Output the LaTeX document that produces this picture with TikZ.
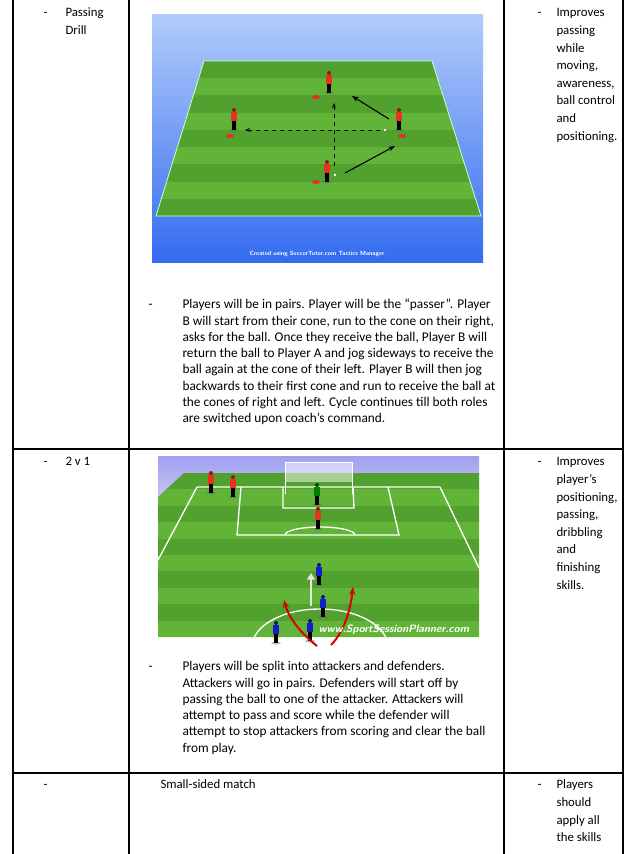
\documentclass[tikz,border=0pt]{standalone}
\usepackage{fontspec}
\setmainfont{Carlito}
\usetikzlibrary{positioning,arrows.meta}
\definecolor{grassA}{RGB}{82,160,46}
\definecolor{grassB}{RGB}{98,180,56}
\definecolor{shirtred}{RGB}{230,50,30}
\definecolor{shirtblue}{RGB}{20,30,200}
\tikzset{
	every picture/.style={line width=0.75pt},
	grid line/.style={line width=1.1pt},
	cell text/.style={anchor=north west,inner sep=0pt,font=\fontsize{9.6}{13.2}\selectfont,align=left},
	para text/.style={anchor=north west,inner sep=0pt,font=\fontsize{10}{12.2}\selectfont,align=left},
	pass/.style={-{Stealth[length=4pt]},dashed,line width=0.6pt},
	run/.style={-{Stealth[length=5pt]},line width=0.8pt},
	redrun/.style={-{Stealth[length=6pt]},line width=1.5pt,color=red!85!black}}
\newcommand{\plyr}[3]{% x, y, shirt colour
	\fill[black!60,opacity=0.4] (#1,#2+12) ellipse (5 and 1.5);
	\fill[black] (#1-2,#2+3) rectangle (#1+2,#2+12);
	\fill[#3] (#1-3,#2-6) rectangle (#1+3,#2+3);
	\fill[#3!60!black] (#1,#2-8) circle (2);}
\newcommand{\cone}[2]{\fill[shirtred] (#1,#2) ellipse (4 and 2);}

\begin{document}
\begin{tikzpicture}[x=0.75pt,y=0.75pt,yscale=-1]
	\useasboundingbox (0,0) rectangle (630,854);
	\fill[white] (0,0) rectangle (630,854);
	
	%table grid
	\draw[grid line] (13,0) -- (13,854);
	\draw[grid line] (129,0) -- (129,854);
	\draw[grid line] (504,0) -- (504,854);
	\draw[grid line] (623,0) -- (623,854);
	\draw[grid line] (13,449) -- (623,449);
	\draw[grid line] (13,773) -- (623,773);
	
	%first picture
	\shade[top color={rgb,255:red,178;green,204;blue,250},bottom color={rgb,255:red,52;green,108;blue,240}] (152,14) rectangle (483,262);
	\begin{scope}
		\clip (204,61) -- (432,61) -- (481,216) -- (156,216) -- cycle;
		\foreach \i in {0,...,8} {
			\pgfmathsetmacro{\ya}{61+\i*155/9}
			\ifodd\i \def\stripe{grassB}\else\def\stripe{grassA}\fi
			\fill[\stripe] (150,\ya) rectangle (490,\ya+155/9+0.5);
		}
	\end{scope}
	\draw[white!80!green,line width=0.6pt] (204,61) -- (432,61) -- (481,216) -- (156,216) -- cycle;
	\cone{316}{97}\cone{230}{136}\cone{402}{136}\cone{316}{182}
	\plyr{329}{81}{shirtred}
	\plyr{234}{118}{shirtred}
	\plyr{399}{118}{shirtred}
	\plyr{327}{170}{shirtred}
	\fill[white] (385,130) circle (1.3) (335,175) circle (1.3);
	\coordinate (bstart) at (334,166);
	\coordinate (bup) at (334,103);
	\coordinate (rball) at (380,130);
	\coordinate (lcone) at (245,130);
	\coordinate (bpass) at (345,173);
	\coordinate (rcone) at (395,146);
	\coordinate (rrun) at (389,119);
	\coordinate (tcone) at (352,96);
	\draw[pass] (bstart) -- (bup);
	\draw[pass] (rball) -- (lcone);
	\draw[run] (bpass) -- (rcone);
	\draw[run] (rrun) -- (tcone);
	\node[text=white,font=\fontsize{4.5}{5}\sffamily\bfseries] (credit) at (317,254) {Created using SoccerTutor.com Tactics Manager};
	
	%second picture
	\shade[top color={rgb,255:red,160;green,160;blue,240},bottom color={rgb,255:red,200;green,200;blue,245}] (158,456) rectangle (479,500);
	\begin{scope}
		\clip (158,497) -- (184,473) -- (479,473) -- (479,637) -- (158,637) -- cycle;
		\foreach \i in {0,...,9} {
			\pgfmathsetmacro{\ya}{473+\i*164/10}
			\ifodd\i \def\stripe{grassB}\else\def\stripe{grassA}\fi
			\fill[\stripe] (150,\ya) rectangle (490,\ya+16.9);
		}
		\draw[white,line width=1pt] (197,487) -- (440,487) -- (479,568);
		\draw[white,line width=1pt] (197,487) -- (158,560);
		\draw[white,line width=1pt] (241,487) -- (237,535) -- (399,535) -- (388,487);
		\draw[white,line width=1pt] (283,487) -- (283,508) -- (354,508) -- (353,487);
		\draw[white,line width=1pt] (285,535) arc (180:360:35 and 8);
		\draw[white,line width=1pt] (158,647) -- (479,647);
		\draw[white,line width=1pt] (320,647) ellipse (68 and 38);
	\end{scope}
	\draw[white,line width=0.5pt] (285,494) -- (285,462) -- (352,462) -- (352,494);
	\fill[white,opacity=0.5] (285,462) rectangle (352,482);
	\plyr{211}{481}{shirtred}
	\plyr{233}{485}{shirtred}
	\plyr{317}{493}{green!50!black}
	\plyr{318}{517}{shirtred}
	\plyr{319}{573}{shirtblue}
	\plyr{323}{605}{shirtblue}
	\plyr{276}{631}{shirtblue}
	\plyr{310}{629}{shirtblue}
	\coordinate (gstart) at (311,606);
	\coordinate (gend) at (311,573);
	\draw[-{Triangle[length=5pt,width=6pt]},line width=2pt,color=white!80!gray] (gstart) -- (gend);
	\coordinate (lfrom) at (317,646);
	\coordinate (lto) at (284,600);
	\coordinate (rfrom) at (331,645);
	\coordinate (rto) at (353,587);
	\draw[redrun] (lfrom) .. controls (297,630) and (288,615) .. (lto);
	\draw[redrun] (rfrom) .. controls (346,630) and (351,605) .. (rto);
	\node[text=white,font=\fontsize{8}{9}\sffamily\bfseries\itshape,anchor=east] (mark) at (474,630) {www.SportSessionPlanner.com};
	
	%column texts
	\node[cell text] (dashA) at (43,4) {\strut-};
	\node[cell text] (nameA) at (65,4) {\strut Passing\\Drill};
	\node[cell text] (dashB) at (43,453) {\strut-};
	\node[cell text] (nameB) at (65,453) {\strut 2 v 1};
	\node[cell text] (dashC) at (43,776) {\strut-};
	\node[cell text] (nameC) at (160,776) {\strut Small-sided match};
	\node[cell text] (dashD) at (537,4) {\strut-};
	\node[cell text] (goalA) at (556,4) {\strut Improves\\passing\\while\\moving,\\awareness,\\ball control\\and\\positioning.};
	\node[cell text] (dashE) at (537,453) {\strut-};
	\node[cell text] (goalB) at (556,453) {\strut Improves\\player’s\\positioning,\\passing,\\dribbling\\and\\finishing\\skills.};
	\node[cell text] (dashF) at (537,776) {\strut-};
	\node[cell text] (goalC) at (556,776) {\strut Players\\should\\apply all\\the skills};
	
	%paragraphs
	\node[para text] (dashP) at (148,297) {\strut-};
	\node[para text] (paraA) at (182,297) {\strut Players will be in pairs. Player will be the “passer”. Player\\B will start from their cone, run to the cone on their right,\\asks for the ball. Once they receive the ball, Player B will\\return the ball to Player A and jog sideways to receive the\\ball again at the cone of their left. Player B will then jog\\backwards to their first cone and run to receive the ball at\\the cones of right and left. Cycle continues till both roles\\are switched upon coach’s command.};
	\node[para text] (dashQ) at (148,659) {\strut-};
	\node[para text] (paraB) at (182,659) {\strut Players will be split into attackers and defenders.\\Attackers will go in pairs. Defenders will start off by\\passing the ball to one of the attacker. Attackers will\\attempt to pass and score while the defender will\\attempt to stop attackers from scoring and clear the ball\\from play.};
\end{tikzpicture}
\end{document}
